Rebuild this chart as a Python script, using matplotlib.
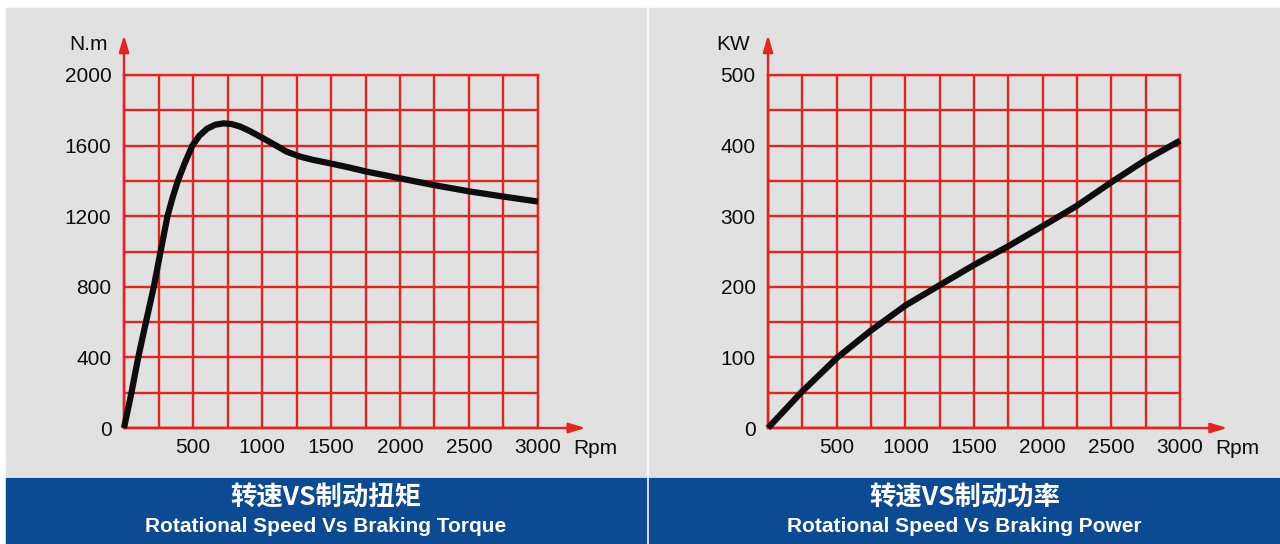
import matplotlib
matplotlib.use("Agg")
import matplotlib.pyplot as plt
from matplotlib.patches import Rectangle

plt.rcParams['font.family'] = ['Liberation Sans', 'Noto Sans CJK SC', 'DejaVu Sans']

# torque curve
torque_rpm = [0, 54, 103, 159, 216, 265, 290, 315, 350, 390, 440, 495, 545, 601, 660, 721,
              780, 841, 910, 986, 1080, 1178, 1274, 1370, 1490, 1620, 1756, 1998, 2240,
              2507, 2750, 3000]
torque_nm = [0, 200, 400, 600, 800, 1000, 1100, 1200, 1300, 1400, 1500, 1600, 1655, 1695,
             1718, 1726, 1722, 1708, 1683, 1651, 1610, 1566, 1538, 1519, 1500, 1478, 1453,
             1415, 1377, 1340, 1311, 1283]

# power curve
power_rpm = [0, 250, 506, 749, 1004, 1247, 1501, 1745, 2000, 2243, 2499, 2744, 3000]
power_kw = [0, 52, 100, 138, 174, 202, 231, 257, 286, 314, 348, 379, 407]

x_ticks = [500, 1000, 1500, 2000, 2500, 3000]
torque_ticks = [0, 400, 800, 1200, 1600, 2000]
power_ticks = [0, 100, 200, 300, 400, 500]

titles_cn = ["转速VS制动扭矩", "转速VS制动功率"]
titles_en = ["Rotational Speed Vs Braking Torque", "Rotational Speed Vs Braking Power"]
y_units = ["N.m", "KW"]

RED = "#e5231f"
GRAY = "#e1e1e1"
BLUE = "#0c4b94"
INK = "#0d0d0d"

W, H = 1280, 544
fig = plt.figure(figsize=(12.8, 5.44), dpi=100)
fig.patch.set_facecolor("white")

# panels and blue bands (pixel boxes -> figure fraction)
panels = [(6, 646), (649, 1280)]
for (x0, x1), cn, en in zip(panels, titles_cn, titles_en):
    fig.patches.append(Rectangle((x0 / W, (H - 476) / H), (x1 - x0) / W, (476 - 8) / H,
                                 transform=fig.transFigure, color=GRAY, zorder=-10))
    fig.patches.append(Rectangle((x0 / W, 0), (x1 - x0) / W, (H - 478) / H,
                                 transform=fig.transFigure, color=BLUE, zorder=-10))
    cx = (x0 + x1) / 2 / W
    fig.text(cx, (H - 498) / H, cn, color="white", fontsize=19, fontweight="bold",
             ha="center", va="center", family=['Noto Sans CJK SC', 'DejaVu Sans'])
    fig.text(cx, (H - 526) / H, en, color="white", fontsize=15, fontweight="bold",
             ha="center", va="center")

ax1 = fig.add_axes([124 / W, (H - 428) / H, 414 / W, 353 / H])
ax2 = fig.add_axes([768 / W, (H - 428) / H, 412 / W, 353 / H])

setups = [
    (ax1, torque_rpm, torque_nm, torque_ticks, 2000, 200, y_units[0]),
    (ax2, power_rpm, power_kw, power_ticks, 500, 50, y_units[1]),
]

for ax, xs, ys, yt, ymax, ystep, unit in setups:
    ax.set_facecolor("none")
    ax.set_xlim(0, 3000)
    ax.set_ylim(0, ymax)
    ax.set_xticks(x_ticks)
    ax.set_xticks(range(0, 3001, 250), minor=True)
    ax.set_yticks(yt)
    ax.set_yticks(range(0, ymax + 1, ystep), minor=True)
    ax.grid(which="both", color=RED, linewidth=1.7)
    ax.set_axisbelow(True)
    for s in ax.spines.values():
        s.set_color(RED)
        s.set_linewidth(1.7)
    ax.tick_params(which="both", length=0, labelcolor=INK)
    ax.tick_params(axis="x", pad=7, labelsize=15)
    ax.tick_params(axis="y", pad=9, labelsize=15)
    ax.plot(xs, ys, color=INK, linewidth=4.5, solid_capstyle="butt",
            solid_joinstyle="round", zorder=5, clip_on=False)
    # arrows on the axes
    ax.annotate("", xy=(1.115, 0), xytext=(0, 0), xycoords="axes fraction",
                arrowprops=dict(arrowstyle="-|>,head_length=1.0,head_width=0.3",
                                color=RED, lw=1.7, shrinkA=0, shrinkB=0))
    ax.annotate("", xy=(0, 1.113), xytext=(0, 0), xycoords="axes fraction",
                arrowprops=dict(arrowstyle="-|>,head_length=1.0,head_width=0.3",
                                color=RED, lw=1.7, shrinkA=0, shrinkB=0))
    ax.text(-0.085, 1.085, unit, transform=ax.transAxes, fontsize=15,
            ha="center", va="center", color=INK)
    ax.text(1.138, -0.058, "Rpm", transform=ax.transAxes, fontsize=15,
            ha="center", va="center", color=INK)

fig.savefig("out.png", dpi=100)
